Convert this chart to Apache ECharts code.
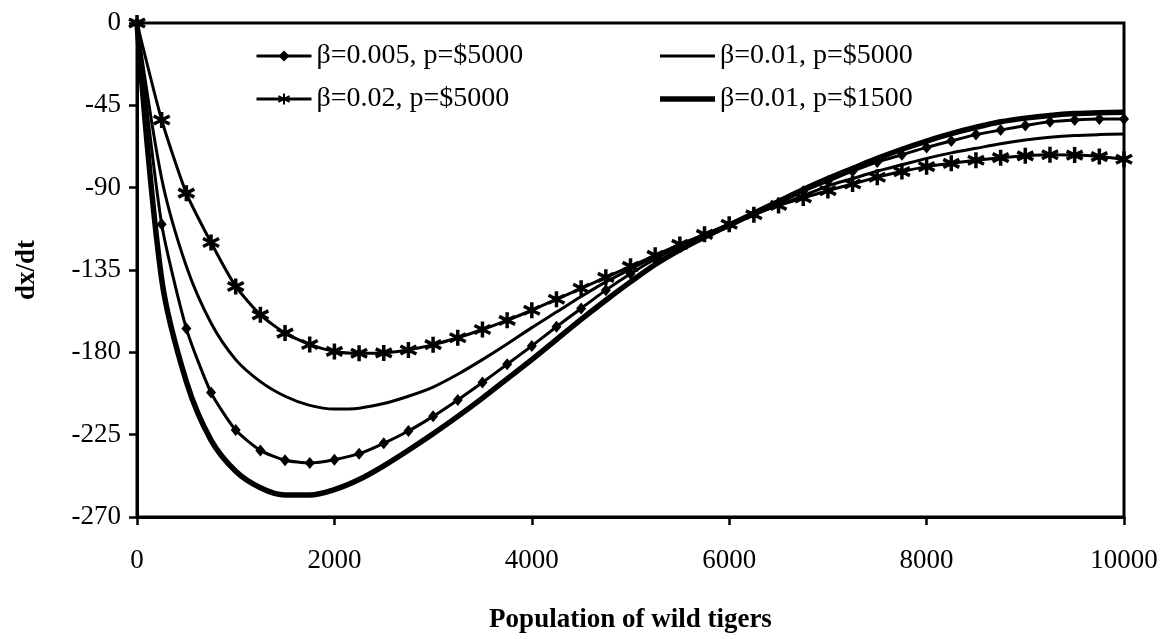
<!DOCTYPE html>
<html>
<head>
<meta charset="utf-8">
<script src="https://cdn.jsdelivr.net/npm/echarts@6/dist/echarts.min.js"></script>
<style>
  html, body { margin: 0; padding: 0; background: #fff; }
  #main { width: 1169px; height: 639px; }
</style>
</head>
<body>
<div id="main"></div>
<script>
// population of wild tigers, step 250
var xs = [];
for (var i = 0; i <= 40; i++) xs.push(i * 250);

var seriesNames = ['β=0.005, p=$5000', 'β=0.01, p=$5000', 'β=0.02, p=$5000', 'β=0.01, p=$1500'];

var b005p5000 = [0, -110, -167, -202, -222.5, -233.6, -239, -240.5, -238.7, -235.4,
  -229.7, -223, -215, -206, -196.5, -186.5, -176.5, -166, -156, -146,
  -137, -129, -122, -116, -110.5, -104.5, -98.5, -92, -86.5, -81,
  -76, -72, -68, -64.5, -61, -58.5, -56, -54, -53, -52.5, -52.5];

var b01p5000 = [0, -85, -133, -164, -184, -196, -204, -209, -211, -210.5,
  -208, -204, -199, -192, -184, -175.5, -166.5, -158, -149.5, -141.5,
  -134.5, -127.5, -121.5, -115.5, -110, -104.5, -99.5, -94.5, -89, -85,
  -81, -77.5, -74, -71, -68.5, -66, -64, -62.5, -61.5, -61, -60.7];

var b02p5000 = [0, -53, -93, -120, -144, -159.5, -169.5, -175.7, -179.5, -180.5,
  -180.3, -178.7, -175.8, -172, -167.5, -162.5, -157, -151, -145, -139,
  -133, -127, -121, -115.5, -110, -104.8, -99.7, -95.6, -91.6, -88,
  -84.3, -81.2, -78.5, -76.7, -75, -73.6, -72.6, -72, -72.2, -73, -74.5];

var b01p1500 = [0, -140, -196, -228, -245, -254, -258, -258, -255, -249.5,
  -242, -233.5, -224.5, -215, -205, -194.5, -184, -173, -162, -151.5,
  -141.5, -132, -124, -117, -110.5, -104, -97.5, -91, -85, -79.5,
  -74, -69, -64.5, -60.5, -57, -54, -52, -50.5, -49.5, -49, -48.8];

var yTicks = [0, -45, -90, -135, -180, -225, -270];

function pairs(vals) {
  return xs.map(function (x, i) { return [x, vals[i]]; });
}

var font = 'Liberation Serif, Times New Roman, serif';
var starPath = 'path://M0,-6L0,6M-5.2,-3L5.2,3M-5.2,3L5.2,-3';
var thinIcon = 'path://M0,0L55,0L55,3L0,3Z';
var thickIcon = 'path://M0,0L55,0L55,5.5L0,5.5Z';

var legendText = { fontFamily: font, fontSize: 28, color: '#000' };

var option = {
  animation: false,
  backgroundColor: '#fff',
  grid: {
    left: 137, right: 45, top: 23, bottom: 116,
    show: true, borderColor: '#000', borderWidth: 3, backgroundColor: 'transparent'
  },
  legend: [{
    orient: 'vertical', left: 250, top: 37, itemGap: 15,
    itemWidth: 55, itemHeight: 14,
    lineStyle: { width: 3, color: '#000' },
    data: [seriesNames[0], seriesNames[2]],
    textStyle: legendText
  }, {
    orient: 'vertical', left: 655, top: 37, itemGap: 15,
    itemWidth: 55, itemHeight: 14,
    data: [{ name: seriesNames[1], icon: thinIcon }, { name: seriesNames[3], icon: thickIcon }],
    textStyle: legendText
  }],
  xAxis: {
    type: 'value', min: 0, max: 10000, interval: 2000,
    name: 'Population of wild tigers', nameLocation: 'middle', nameGap: 90,
    nameTextStyle: { fontFamily: font, fontSize: 27, fontWeight: 'bold', color: '#000' },
    axisLine: { show: true, onZero: false, lineStyle: { color: '#000', width: 3 } },
    axisTick: { show: true, length: 8, lineStyle: { color: '#000', width: 2.5 } },
    axisLabel: {
      fontFamily: font, fontSize: 27, color: '#000', margin: 30,
      formatter: function (v) { return String(v); }
    },
    splitLine: { show: false }
  },
  yAxis: {
    type: 'value', min: -270, max: 0, interval: 45,
    name: 'dx/dt', nameLocation: 'middle', nameGap: 96, nameRotate: 90,
    nameTextStyle: { fontFamily: font, fontSize: 27, fontWeight: 'bold', color: '#000' },
    axisLine: { show: true, onZero: false, lineStyle: { color: '#000', width: 3 } },
    axisTick: { show: true, length: 8, lineStyle: { color: '#000', width: 2.5 } },
    axisLabel: {
      fontFamily: font, fontSize: 27, color: '#000', margin: 16,
      formatter: function (v) { return yTicks.indexOf(v) >= 0 ? String(v) : ''; }
    },
    splitLine: { show: false }
  },
  series: [{
    name: seriesNames[0], type: 'line', data: pairs(b005p5000),
    symbol: 'diamond', symbolSize: [10, 12], showAllSymbol: true, smooth: 0.2,
    lineStyle: { color: '#000', width: 3 }, itemStyle: { color: '#000' }
  }, {
    name: seriesNames[1], type: 'line', data: pairs(b01p5000),
    symbol: 'none', smooth: 0.3,
    lineStyle: { color: '#000', width: 3 }, itemStyle: { color: '#000' }
  }, {
    name: seriesNames[2], type: 'line', data: pairs(b02p5000),
    symbol: starPath, symbolSize: 16, showAllSymbol: true, smooth: 0.2,
    lineStyle: { color: '#000', width: 3 },
    itemStyle: { color: '#000', borderColor: '#000', borderWidth: 3.5 }
  }, {
    name: seriesNames[3], type: 'line', data: pairs(b01p1500),
    symbol: 'none', smooth: 0.3,
    lineStyle: { color: '#000', width: 5.5 }, itemStyle: { color: '#000' }
  }]
};

var myChart = echarts.init(document.getElementById('main'), null, { renderer: 'canvas' });
myChart.setOption(option);
</script>
</body>
</html>
